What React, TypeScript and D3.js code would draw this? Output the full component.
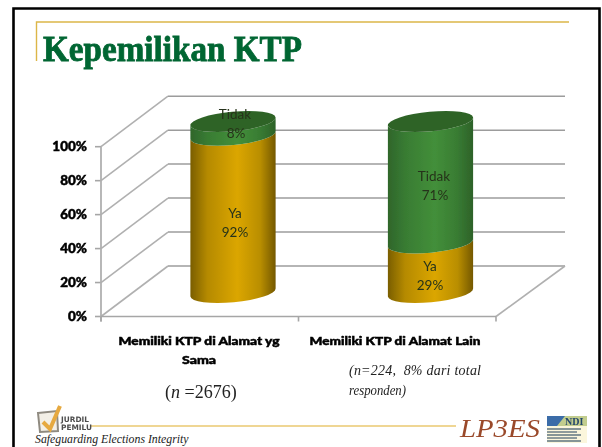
import React from "react";
import * as d3 from "d3";

const yTicks = [0, 20, 40, 60, 80, 100];
const categories = ["Memiliki KTP di Alamat yg Sama", "Memiliki KTP di Alamat Lain"];
const categoryLines = [["Memiliki KTP di Alamat yg", "Sama"], ["Memiliki KTP di Alamat Lain"]];
const yaValues = [92, 29];
const tidakValues = [8, 71];
const seriesNames = ["Ya", "Tidak"];

const W = 602, H = 447;
const y = d3.scaleLinear().domain([0, 100]).range([316.5, 146.7]);
const x = d3.scaleBand().domain(categories).range([101, 496]);
const cy = d3.scaleLinear().domain([0, 100]).range([292.5, 121.5]);
const DX = 67, DY = -50.5;
const RX = 42.8, RY = 9.8, TILT = -5.4;
const rad = (TILT * Math.PI) / 180;
const cxs = [233, 430.5];

function edges(cx: number, cyv: number) {
  const dx = RX * Math.cos(rad), dy = RX * Math.sin(rad);
  return { lx: cx - dx, ly: cyv - dy, rx: cx + dx, ry: cyv + dy };
}
function band(cx: number, v0: number, v1: number) {
  const a = edges(cx, cy(v0));
  const b = edges(cx, cy(v1));
  return `M${a.lx},${a.ly} A${RX},${RY} ${TILT} 0 0 ${a.rx},${a.ry} L${b.rx},${b.ry} A${RX},${RY} ${TILT} 0 1 ${b.lx},${b.ly} Z`;
}

const sans = "Lato, 'Noto Sans', sans-serif";
const serif = "'Liberation Serif', serif";

export default function App() {
  return (
    <svg width={W} height={H} style={{ position: "absolute", left: 0, top: 0 }} viewBox={`0 0 ${W} ${H}`}>
      <defs>
        <linearGradient id="gy" x1="0" x2="1" y1="0" y2="0">
          <stop offset="0" stopColor="#7a5e00" />
          <stop offset="0.2" stopColor="#b58a00" />
          <stop offset="0.55" stopColor="#dba600" />
          <stop offset="0.82" stopColor="#b98e00" />
          <stop offset="1" stopColor="#745800" />
        </linearGradient>
        <linearGradient id="gg" x1="0" x2="1" y1="0" y2="0">
          <stop offset="0" stopColor="#2f662b" />
          <stop offset="0.22" stopColor="#397d33" />
          <stop offset="0.55" stopColor="#438f3a" />
          <stop offset="0.8" stopColor="#397d33" />
          <stop offset="1" stopColor="#2d6229" />
        </linearGradient>
        <filter id="blur" x="-5%" y="-5%" width="110%" height="110%">
          <feGaussianBlur stdDeviation="0.35" />
        </filter>
        <filter id="smudge" x="-5%" y="-20%" width="110%" height="140%">
          <feGaussianBlur stdDeviation="0.45" />
        </filter>
      </defs>
      <rect x={0} y={0} width={W} height={H} fill="#fff" />
      {/* slide frame */}
      <path d="M13.5,447 V8.5 H599.5 V447" fill="none" stroke="#000" strokeWidth={2.6} />
      {/* gold rule */}
      <path d="M36.5,61 V22 H569" fill="none" stroke="#dcb648" strokeWidth={1.4} />
      <text x={43} y={61} fontFamily={serif} fontWeight={700} fontSize={36} fill="#006633" stroke="#006633" strokeWidth={0.8} textLength={259} lengthAdjust="spacingAndGlyphs" filter="url(#blur)">Kepemilikan KTP</text>

      {/* walls */}
      <g filter="url(#blur)">
        {yTicks.map((t) => (
          <g key={t}>
            <line x1={x.range()[0]} y1={y(t)} x2={x.range()[0] + DX} y2={y(t) + DY} stroke="#b0b0b0" strokeWidth={1.6} />
            <line x1={x.range()[0] + DX} y1={y(t) + DY} x2={x.range()[1] + 69} y2={y(t) + DY} stroke="#9c9c9c" strokeWidth={1.5} />
            <line x1={95} y1={y(t)} x2={x.range()[0]} y2={y(t)} stroke="#a6a6a6" strokeWidth={1.6} />
          </g>
        ))}
        <line x1={x.range()[0]} y1={y(0) + 5} x2={x.range()[0]} y2={y(100)} stroke="#b0b0b0" strokeWidth={1.8} />
        <line x1={x.range()[0]} y1={y(0)} x2={x.range()[1]} y2={y(0)} stroke="#a6a6a6" strokeWidth={1.7} />
        <line x1={x.range()[1]} y1={y(0)} x2={x.range()[1] + 69} y2={y(0) + DY} stroke="#b0b0b0" strokeWidth={1.6} />
        {[0, 1, 2].map((i) => (
          <line key={i} x1={x.range()[0] + i * x.bandwidth()} y1={y(0)} x2={x.range()[0] + i * x.bandwidth()} y2={y(0) + 5} stroke="#a6a6a6" strokeWidth={1.6} />
        ))}
      </g>

      {/* cylinders */}
      <g filter="url(#blur)">
        {categories.map((c, i) => {
          const cx = cxs[i];
          const ya = yaValues[i];
          const total = ya + tidakValues[i];
          return (
            <g key={c}>
              <path d={band(cx, 0, ya)} fill="url(#gy)" />
              <path d={band(cx, ya, total)} fill="url(#gg)" />
              <ellipse cx={cx} cy={cy(total)} rx={RX} ry={RY} transform={`rotate(${TILT} ${cx} ${cy(total)})`} fill="#2f6428" />
            </g>
          );
        })}
      </g>

      {/* data labels */}
      <g fontFamily={sans} fontSize={13.5} fill="#26331a" textAnchor="middle" filter="url(#blur)">
        <text x={235} y={119}>{seriesNames[1]}</text>
        <text x={236} y={138}>{tidakValues[0]}%</text>
        <text x={235} y={218}>{seriesNames[0]}</text>
        <text x={235} y={237}>{yaValues[0]}%</text>
        <text x={434} y={181}>{seriesNames[1]}</text>
        <text x={435} y={200}>{tidakValues[1]}%</text>
        <text x={430} y={271}>{seriesNames[0]}</text>
        <text x={430} y={290}>{yaValues[1]}%</text>
      </g>

      {/* axis labels */}
      <g fontFamily={sans} fontWeight={900} fontSize={13.5} fill="#000" textAnchor="end" stroke="#000" strokeWidth={0.5} filter="url(#smudge)">
        {yTicks.map((t) => (
          <text key={t} x={87} y={y(t) + 4.5}>{t}%</text>
        ))}
      </g>
      <g fontFamily={sans} fontWeight={900} fontSize={11.5} fill="#000" textAnchor="middle" stroke="#000" strokeWidth={0.5} filter="url(#smudge)">
        {categoryLines[0].map((l, j) => (
          <text key={l} x={199} y={345 + j * 18.5} textLength={j === 0 ? 161 : 34} lengthAdjust="spacingAndGlyphs">{l}</text>
        ))}
        <text x={395} y={345} textLength={171} lengthAdjust="spacingAndGlyphs">{categoryLines[1][0]}</text>
      </g>

      {/* notes */}
      <text x={165} y={398} fontFamily={serif} fontSize={18} fill="#222" filter="url(#blur)">
        (<tspan fontStyle="italic">n</tspan> =2676)
      </text>
      <g fontFamily={serif} fontStyle="italic" fontSize={14} fill="#222" filter="url(#blur)">
        <text x={349} y={375} xmlSpace="preserve" textLength={132} lengthAdjust="spacing">(n=224,  8% dari total</text>
        <text x={349} y={395} textLength={57} lengthAdjust="spacingAndGlyphs">responden)</text>
      </g>

      {/* footer */}
      <line x1={91} y1={426} x2={456} y2={426} stroke="#e0ad2a" strokeWidth={1.2} />
      <text x={35} y={443} fontFamily={serif} fontStyle="italic" fontSize={11.8} fill="#222">Safeguarding Elections Integrity</text>
      <g filter="url(#blur)">
        <path d="M38,413 L57,411 L58,431 L40,432 Z" fill="#f3efe6" stroke="#8f8a80" strokeWidth={2} />
        <path d="M43,422 L50,429 L60,406" fill="none" stroke="#e6a93f" strokeWidth={4} />
        <g fontFamily="'DejaVu Sans', sans-serif" fontWeight={700} fontSize={7.4} fill="#4d4d4d">
          <text x={61} y={421.5}>JURDIL</text>
          <text x={61} y={429.5}>PEMILU</text>
        </g>
      </g>
      <text x={460} y={437} fontFamily={serif} fontStyle="italic" fontSize={25} fill="#9a4a2c" textLength={80} lengthAdjust="spacingAndGlyphs" filter="url(#blur)">LP3ES</text>
      <g filter="url(#blur)">
        <rect x={547} y={416} width={40} height={10} fill="#c2cd8e" />
        <path d="M547,416 H565 L557,426 H547 Z" fill="#3a6ca8" />
        <text x={565} y={425} fontFamily={serif} fontWeight={700} fontSize={10} fill="#24466b">NDI</text>
        <rect x={547} y={426} width={40} height={17} fill="#fbf6dc" />
        {[429, 432, 435, 438, 441].map((ly, i) => (
          <line key={ly} x1={547} x2={i % 2 ? 577 : 581} y1={ly} y2={ly} stroke="#5f7480" strokeWidth={1.4} />
        ))}
      </g>
    </svg>
  );
}
